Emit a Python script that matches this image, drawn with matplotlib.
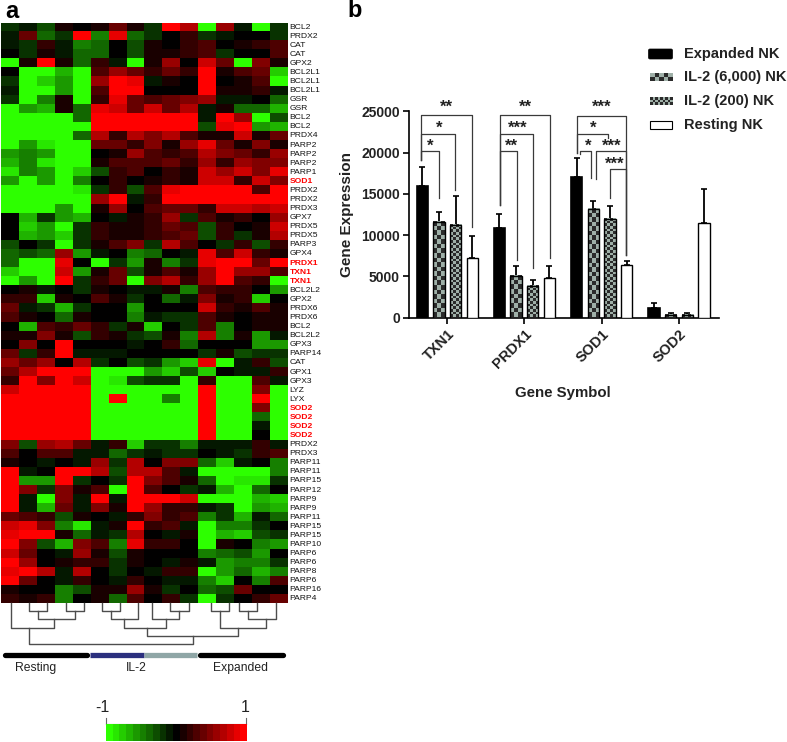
""" heatmap of antioxidant genes and bar chart of gene expression in NK cells """

import matplotlib
matplotlib.use('Agg')
import matplotlib.pyplot as plt
import numpy as np
from matplotlib.colors import LinearSegmentedColormap
from matplotlib.patches import FancyBboxPatch, Rectangle

matplotlib.rcParams['font.family'] = ['Liberation Sans', 'DejaVu Sans']

genes = ['BCL2', 'PRDX2', 'CAT', 'CAT', 'GPX2', 'BCL2L1', 'BCL2L1', 'BCL2L1', 'GSR', 'GSR',
         'BCL2', 'BCL2', 'PRDX4', 'PARP2', 'PARP2', 'PARP2', 'PARP1', 'SOD1', 'PRDX2', 'PRDX2',
         'PRDX3', 'GPX7', 'PRDX5', 'PRDX5', 'PARP3', 'GPX4', 'PRDX1', 'TXN1', 'TXN1', 'BCL2L2',
         'GPX2', 'PRDX6', 'PRDX6', 'BCL2', 'BCL2L2', 'GPX3', 'PARP14', 'CAT', 'GPX1', 'GPX3',
         'LYZ', 'LYX', 'SOD2', 'SOD2', 'SOD2', 'SOD2', 'PRDX2', 'PRDX3', 'PARP11', 'PARP11',
         'PARP15', 'PARP12', 'PARP9', 'PARP9', 'PARP11', 'PARP15', 'PARP15', 'PARP10', 'PARP6',
         'PARP6', 'PARP8', 'PARP6', 'PARP16', 'PARP4']
red_genes = ['SOD1', 'PRDX1', 'TXN1', 'SOD2']

# expression z-scores in tenths, one row per gene
heat_tenths = [
    [-2, -1, -3, 1, 0, 1, 4, 1, -2, 10, 7, -10, 6, -1, -10, -2],
    [-1, 4, -4, -2, 10, -5, 9, -4, -2, 0, 2, -2, -1, 0, 0, -2],
    [-1, -2, 2, -1, -5, -4, 0, -3, 1, 0, 2, 3, 0, 1, 2, 3],
    [0, -2, 1, -1, -4, -4, 0, -3, 1, 1, 2, 3, -2, 0, 0, 3],
    [-10, 1, 10, 1, -4, 2, -1, -10, 1, 6, 0, 8, 4, -10, 5, 1],
    [0, -10, -10, -7, -10, 3, 6, 4, 2, 4, 2, 10, 1, 3, 4, -8],
    [-2, -10, -8, -6, -10, 6, 10, 9, -1, 1, 0, 10, 0, 1, 3, -10],
    [-1, -10, -10, -6, -10, 3, 10, 10, 0, 0, 0, 10, 1, 1, 2, -1],
    [-2, -10, -5, 1, -10, 2, 9, 4, 3, 4, 5, 6, -1, -1, 0, -4],
    [-10, -6, -7, 1, -4, 9, 8, 4, 8, 4, 7, -1, 1, -4, -4, -7],
    [-10, -10, -10, -10, -4, 10, 10, 10, 10, 10, 10, -1, 10, 6, -10, -3],
    [-10, -10, -10, -10, -10, 10, 10, 10, 10, 10, 10, -3, 9, 10, -6, -7],
    [-10, -10, -10, -10, -4, 7, 2, 7, 5, 7, 3, 1, 1, 8, 1, 4],
    [-10, -6, -9, -10, -10, 4, 4, 2, 5, 1, 6, 9, 4, 1, 5, 1],
    [-6, -5, -6, -10, -10, 0, 1, 6, 3, 2, 3, 7, 5, 4, 2, 6],
    [-7, -5, -9, -10, -10, 1, 3, 3, 3, 4, 2, 6, 2, 6, 5, 5],
    [-9, -5, -6, -10, -8, -3, 2, 3, 0, 2, 1, 8, 6, 8, 5, 9],
    [-6, -10, -6, -10, -5, 0, 2, 0, 1, 2, 1, 8, 8, 2, 8, 5],
    [-10, -10, -10, -10, -9, -2, 2, -3, 3, 9, 10, 10, 10, 10, 3, 10],
    [-10, -10, -10, -10, -10, 6, 10, -1, 2, 10, 10, 10, 10, 10, 10, 10],
    [-10, -10, -10, -6, -10, 1, 6, 0, 3, 4, 4, 2, 8, 8, 7, 8],
    [0, -7, -2, -6, -7, 0, -1, 1, 2, 6, -2, 3, 1, 2, 0, 6],
    [0, -8, -6, -10, -2, 2, 1, 1, 2, 4, 3, -3, 2, 0, 1, 8],
    [0, -7, -6, -8, -2, 2, 1, 1, 2, 3, 4, -3, 2, -2, 1, 7],
    [-3, 0, -2, -10, -2, 1, 3, 5, -2, 7, 3, 0, -2, 2, -3, 2],
    [-4, -3, -4, 6, -6, -1, 0, -5, -4, 0, -1, 9, 3, 8, 2, 1],
    [-4, -10, -10, 9, 0, -10, -2, -6, 1, -5, -2, 9, 10, 10, 4, 10],
    [-8, -10, -10, 8, -6, 1, 4, -3, 1, 3, 1, 6, 10, 6, 6, 3],
    [-10, -6, -10, 10, -2, 2, 4, -10, 5, 7, 2, 6, 10, 3, 2, -10],
    [0, 1, -1, 0, -2, 1, 0, -1, -1, 1, -5, 3, 2, 2, 0, -6],
    [2, 2, -8, 1, 0, 3, 1, -2, 0, -4, -1, 5, 1, 2, -8, 0],
    [4, -1, -2, -7, -2, 0, 0, -6, 0, 0, 0, 8, 2, 1, 3, 1],
    [3, 1, 0, -4, 1, 0, 0, -5, -1, -2, -2, 3, 1, 0, 1, 1],
    [0, -7, 3, 2, 4, 2, -2, 1, -8, 0, -2, 3, -5, 0, 1, 1],
    [1, 1, 5, 1, -3, 2, 1, -2, -3, 1, -5, 7, -5, 1, -6, -1],
    [0, 5, 0, 10, 0, 0, 0, -1, 0, 2, -4, 0, 0, 0, -6, -6],
    [4, -2, 2, 10, -1, -1, -1, 0, 0, 0, 0, -2, 1, -3, -2, -2],
    [6, 4, 6, 0, 7, -2, 0, -3, -2, -6, -8, 9, -10, -1, 2, -3],
    [4, 7, 10, 10, 10, -10, -10, -10, -6, -8, -3, -8, 0, -1, -1, 2],
    [2, 10, 5, 10, 8, -10, -9, -3, -2, -2, -10, 2, -10, -10, 3, -1],
    [8, 10, 10, 10, 10, -10, -10, -10, -10, -10, -10, 10, -10, -10, 5, -10],
    [10, 10, 10, 10, 10, -10, 10, -10, -10, -5, -10, 10, -10, -10, 10, -10],
    [10, 10, 10, 10, 10, -10, -10, -10, -10, -10, -10, 10, -10, -10, 5, -10],
    [10, 10, 10, 10, 10, -10, -10, -10, -10, -10, -10, 10, -10, -10, -4, -10],
    [10, 10, 10, 10, 10, -10, -10, -10, -10, -10, -10, 10, -10, -10, -1, -10],
    [10, 10, 10, 10, 10, -10, -10, -10, -10, -10, -10, 10, -10, -10, 0, -10],
    [5, -3, 6, 7, 4, -1, 2, -8, -2, -2, -5, -1, -1, -1, 2, -1],
    [3, 0, 3, 3, -1, -1, -4, -2, -1, -2, -2, 0, -1, -2, 2, 3],
    [1, 0, -1, 0, -1, 6, -2, 7, 0, 5, 5, -4, -8, -1, 0, -5],
    [10, -1, 0, 10, 10, 7, -3, 7, 7, 3, -1, -10, -10, -10, -10, -5],
    [10, -6, -6, 10, -2, 0, -2, 10, 5, 3, 1, -4, -10, -9, -9, -2],
    [10, 5, -2, 5, 1, 3, -10, 10, 3, 0, -2, -1, -7, -10, -4, 0],
    [10, -1, -10, 5, -1, 10, -1, 10, 10, 10, 8, -10, -10, -10, -7, -8],
    [10, -1, -7, 4, -1, 5, 1, 10, 6, 2, 2, -1, -2, -10, -6, -7],
    [4, 3, 2, -3, 1, 0, -1, 2, 5, 2, 3, -5, -2, -7, -1, -4],
    [8, 9, 5, -5, -9, -1, 1, 10, 2, 3, -1, -10, -5, -5, -2, 0],
    [9, 10, 10, 1, -4, -1, -2, 7, 0, -1, 1, -10, -7, -8, -3, -2],
    [10, 5, -3, -7, 5, 3, -5, 9, 2, 2, 0, -10, 1, 0, -5, -6],
    [8, 4, 0, -1, 6, 1, -3, 1, 0, 0, 0, -5, -4, -3, -6, 0],
    [10, 6, 0, 1, 2, 2, -2, 1, 0, -1, 1, -1, -6, -5, -5, -2],
    [9, 10, 7, -1, 7, 0, -2, 0, -1, 2, 2, -10, -6, -4, -7, -5],
    [10, 4, 0, -1, 2, 0, -1, 2, 0, -1, -1, -5, -8, 0, -5, 3],
    [1, 0, 0, -5, -3, 1, 1, 6, 1, -2, 0, -4, -3, 4, 0, 0],
    [2, 1, 2, -5, 0, 1, -4, 3, 0, 2, -2, -10, -2, 0, 2, 4],
]

# dendrogram merges: left x, right x, join level, left foot, right foot
dendro = [
    (87, 142, 48, 24, 24), (197, 251, 48, 24, 24), (115, 224, 72, 48, 48), (32, 162, 98, 24, 72),
    (305, 360, 48, 24, 24), (332, 414, 72, 48, 24), (510, 567, 48, 24, 24), (456, 538, 72, 24, 48),
    (373, 497, 98, 72, 72), (634, 688, 48, 24, 24), (716, 772, 48, 24, 24), (744, 828, 72, 48, 24),
    (660, 797, 98, 48, 72), (442, 715, 123, 98, 98), (88, 578, 147, 98, 123),
]
group_names = ['Resting', 'IL-2', 'Expanded']

symbols = ['TXN1', 'PRDX1', 'SOD1', 'SOD2']
conditions = ['Expanded NK', 'IL-2 (6,000) NK', 'IL-2 (200) NK', 'Resting NK']
expanded = [16000, 10900, 17000, 1100]
il2_6000 = [11600, 5000, 13100, 300]
il2_200 = [11200, 3800, 11900, 300]
resting = [7200, 4800, 6400, 11500]
expanded_err = [2300, 1700, 2300, 600]
il2_6000_err = [1200, 1200, 1000, 200]
il2_200_err = [3500, 700, 1600, 200]
resting_err = [2700, 1500, 400, 4100]

# significance brackets: left x, right x, level, left foot, right foot
brackets = [
    (-0.337, 0.324, 24500, 19100, 11000), (-0.337, 0.099, 22250, 19100, 15450),
    (-0.337, -0.112, 20200, 19100, 14480),
    (0.678, 1.330, 24500, 13600, 7200), (0.678, 1.114, 22250, 13600, 5950),
    (0.678, 0.898, 20200, 13600, 7000),
    (1.675, 2.314, 24470, 19940, 7560), (1.675, 2.085, 22210, 19940, 21770),
    (1.718, 1.861, 20220, 19820, 16910), (1.926, 2.314, 20220, 16790, 7560),
    (2.103, 2.314, 18000, 14520, 7560),
]
# star labels: x, y, text
stars = [
    (-0.017, 25770, '**'), (-0.100, 23140, '*'), (-0.216, 21030, '*'),
    (1.006, 25770, '**'), (0.911, 23140, '***'), (0.829, 21000, '**'),
    (1.995, 25770, '***'), (1.887, 23140, '*'), (1.822, 21000, '*'),
    (2.133, 21070, '***'), (2.168, 18770, '***'),
]

W, H = 787, 742
LINE_GREY = '#3a3a3a'
TEXT = '#222222'
OFFSETS = [-0.324, -0.108, 0.108, 0.324]
BAR_W = 0.147


def px_axes(fig, x0, y0, x1, y1):
    """ axes placed by pixel box, y measured from the top of the picture """
    return fig.add_axes([x0 / W, 1 - y1 / H, (x1 - x0) / W, (y1 - y0) / H])


def checker(ax, x0, x1, y0, y1, nx, ny):
    """ fill a box with a dark/light checker pattern """
    board = np.indices((ny, nx)).sum(axis=0) % 2
    ax.imshow(board, extent=(x0, x1, y0, y1), aspect='auto', origin='lower',
              cmap=LinearSegmentedColormap.from_list('ck', ['#2b2b2b', '#9fb0a8']),
              interpolation='nearest', zorder=2)


fig = plt.figure(figsize=(W / 100, H / 100), dpi=100)
cmap = LinearSegmentedColormap.from_list('gbr', ['#2dff00', '#000000', '#ff0000'])

# ### panel a
ax_h = px_axes(fig, 1, 22.5, 288, 603.5)
values = np.array(heat_tenths) / 10
ax_h.imshow(values, cmap=cmap, vmin=-1, vmax=1, aspect='auto', interpolation='nearest')
ax_h.axis('off')
for i, g in enumerate(genes):
    bold = g in red_genes
    ax_h.text(15.58, i, g, fontsize=6.1, va='center', ha='left', clip_on=False,
              color='#ff0000' if bold else '#111111', fontweight='bold' if bold else 'normal')

ax_d = px_axes(fig, 0, 595, 320, 742)
ax_d.set_xlim(0, 960)
ax_d.set_ylim(441, 0)
ax_d.axis('off')
for x0, x1, level, foot0, foot1 in dendro:
    ax_d.plot([x0, x0, x1, x1], [foot0, level, level, foot1], c='#4d4d4d', lw=1.0)
ax_d.plot([14, 262], [179, 179], c='black', lw=3.8, solid_capstyle='round')
ax_d.plot([600, 850], [179, 179], c='black', lw=3.8, solid_capstyle='round')
ax_d.plot([270, 433], [179, 179], c='#2b2f7e', lw=3.8, solid_capstyle='butt')
ax_d.plot([433, 592], [179, 179], c='#8fa6a6', lw=3.8, solid_capstyle='butt')
for name, xc in zip(group_names, [108, 408, 720]):
    ax_d.text(xc, 218, name, fontsize=8.7, ha='center', va='center', color=TEXT)
ax_d.plot([318, 318], [368, 387], c='#666666', lw=0.8)
ax_d.plot([738, 738], [368, 387], c='#666666', lw=0.8)
ax_d.plot([318, 738], [387, 387], c='#666666', lw=0.8)
ax_d.text(306, 337, '-1', fontsize=11.5, ha='center', va='center', color=TEXT)
ax_d.text(737, 337, '1', fontsize=11.5, ha='center', va='center', color=TEXT)

ax_c = px_axes(fig, 106, 724, 247, 741)
ax_c.imshow([np.linspace(-1, 1, 21)], cmap=cmap, vmin=-1, vmax=1, aspect='auto',
            interpolation='nearest')
ax_c.axis('off')

fig.text(5 / W, 1 - 12 / H, 'a', fontsize=17, fontweight='bold', va='center')
fig.text(347 / W, 1 - 10.5 / H, 'b', fontsize=17, fontweight='bold', va='center')

# ### panel b
ax = px_axes(fig, 409.3, 111.3, 719, 317.5)
series = [expanded, il2_6000, il2_200, resting]
errors = [expanded_err, il2_6000_err, il2_200_err, resting_err]
x = np.arange(len(symbols))

for k, (vals, errs, off) in enumerate(zip(series, errors, OFFSETS)):
    pos = x + off
    ax.errorbar(pos, vals, yerr=[np.zeros(4), errs], fmt='none', ecolor='black', elinewidth=1.3,
                capsize=2.4, capthick=1.2, zorder=1)
    if k == 0:
        ax.bar(pos, vals, BAR_W, color='black', edgecolor='black', linewidth=1.2, zorder=3)
    elif k == 3:
        ax.bar(pos, vals, BAR_W, color='white', edgecolor='black', linewidth=1.0, zorder=3)
    else:
        ax.bar(pos, vals, BAR_W, fill=False, edgecolor='black', linewidth=1.0, zorder=3)
        for p, v in zip(pos, vals):
            # square size stays the same from bar to bar, only the row count changes
            side = 13.5 if k == 1 else 8.0
            checker(ax, p - BAR_W / 2, p + BAR_W / 2, 0, v,
                    int(round(34 / side)), max(1, int(round(v / 40.45 / side))))

for x0, x1, level, foot0, foot1 in brackets:
    ax.plot([x0, x0, x1, x1], [foot0, level, level, foot1], c=LINE_GREY, lw=0.9, clip_on=False,
            zorder=4)
for sx, sy, label in stars:
    ax.text(sx, sy - 250, label, fontsize=12, ha='center', va='center', color=TEXT,
            fontweight='bold', clip_on=False, zorder=5)

ax.set_xlim(-0.492, 3.52)
ax.set_ylim(0, 25000)
ax.set_xticks(x)
ax.set_xticklabels(symbols, rotation=45, ha='right', rotation_mode='anchor', fontsize=10.5,
                   fontweight='bold', color=TEXT)
ax.set_yticks([0, 5000, 10000, 15000, 20000, 25000])
ax.set_yticklabels(['0', '5000', '10000', '15000', '20000', '25000'], fontsize=10,
                   fontweight='bold', color=TEXT)
ax.tick_params(axis='both', width=1.2, length=4.3, pad=2.5)
ax.spines['top'].set_visible(False)
ax.spines['right'].set_visible(False)
ax.spines['left'].set_linewidth(1.2)
ax.spines['bottom'].set_linewidth(1.2)
ax.set_xlabel('Gene Symbol', fontsize=10.8, fontweight='bold', color=TEXT)
ax.set_ylabel('Gene Expression', fontsize=11, fontweight='bold', color=TEXT)
ax.xaxis.set_label_coords(0.496, -0.332)
ax.yaxis.set_label_coords(-0.178, 0.5)

# ### legend, hand built so the checker swatches can be drawn
ax_l = px_axes(fig, 640, 40, 787, 140)
ax_l.set_xlim(0, 147)
ax_l.set_ylim(100, 0)
ax_l.axis('off')
for k, (name, y) in enumerate(zip(conditions, [14, 37, 61, 85])):
    ax_l.text(44.3, y, name, fontsize=10.5, fontweight='bold', va='center', color=TEXT)
    if k == 0:
        ax_l.add_patch(FancyBboxPatch((10, y - 3.5), 21, 7, boxstyle='round,pad=1.5', fc='black',
                                      ec='black', lw=0.5))
    elif k == 3:
        ax_l.add_patch(Rectangle((9.5, y - 3.7), 22.5, 7.4, fc='white', ec='black', lw=0.8))
    else:
        checker(ax_l, 9.5, 32, y + 3.7, y - 3.7, 5 if k == 1 else 9, 2 if k == 1 else 3)
ax_l.set_xlim(0, 147)
ax_l.set_ylim(100, 0)

fig.savefig('out.png', dpi=100)
